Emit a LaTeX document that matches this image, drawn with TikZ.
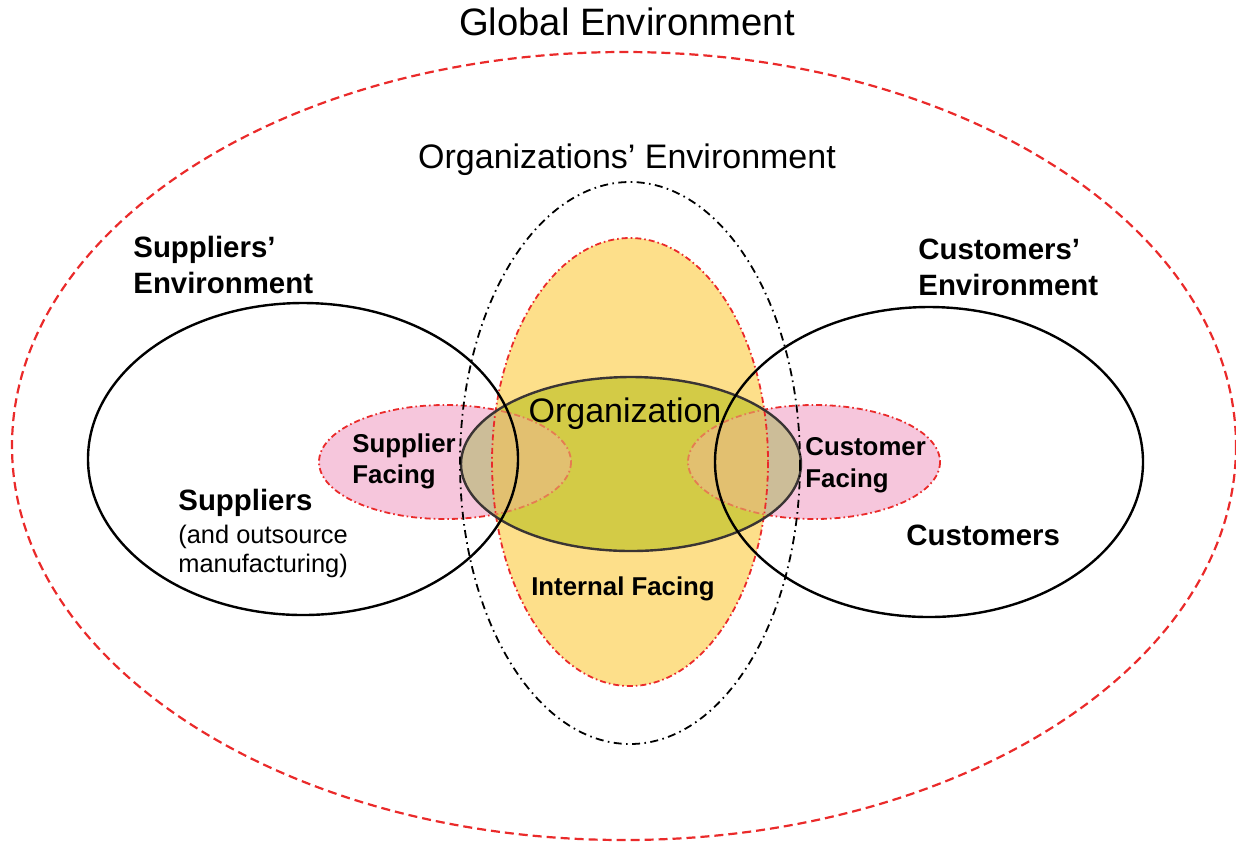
\documentclass[tikz,border=0pt]{standalone}
\usepackage{fontspec}
\setmainfont{Liberation Sans}
\usetikzlibrary{positioning}

\definecolor{envred}{RGB}{234,42,42}
\definecolor{innerfill}{RGB}{253,223,138}
\definecolor{facefill}{RGB}{246,198,220}
\definecolor{orgfill}{RGB}{211,203,70}
\definecolor{mixgrey}{RGB}{204,189,152}
\definecolor{mixorange}{RGB}{226,192,112}
\definecolor{orgline}{RGB}{58,52,52}

\tikzset{
  envline/.style={line width=1.2pt},
  globalline/.style={envred, line width=1.1pt, dash pattern=on 4.5pt off 2.5pt},
  facingline/.style={envred, line width=0.9pt, dash pattern=on 3pt off 1.5pt on 0.8pt off 1.5pt},
  orgenvline/.style={line width=0.9pt, dash pattern=on 4pt off 2.2pt on 0.8pt off 2.2pt},
  biglabel/.style={inner sep=0pt, font=\fontsize{19.1}{23}\selectfont},
  midlabel/.style={inner sep=0pt, font=\fontsize{17}{20}\selectfont},
  envlabel/.style={inner sep=0pt, align=left, font=\fontsize{14.7}{18}\selectfont\bfseries},
  facelabel/.style={inner sep=0pt, align=left, font=\fontsize{12.9}{15.5}\selectfont\bfseries},
  smalllabel/.style={inner sep=0pt, align=left, font=\fontsize{12.7}{14.5}\selectfont},
}

\begin{document}
\begin{tikzpicture}[x=0.5pt, y=-0.5pt]
\useasboundingbox (0,0) rectangle (1236,843);

% Global environment
\draw[globalline] (624,446) ellipse [x radius=612, y radius=394];

% Fills
\fill[innerfill] (630,462) ellipse [x radius=138, y radius=224];
\fill[facefill] (445,462) ellipse [x radius=126, y radius=57];
\fill[facefill] (814,462) ellipse [x radius=126, y radius=57];
\draw[facingline] (445,462) ellipse [x radius=126, y radius=57];
\draw[facingline] (814,462) ellipse [x radius=126, y radius=57];
\fill[orgfill] (631,464) ellipse [x radius=170, y radius=87];

% Overlaps inside the organization
\begin{scope}
  \clip (631,464) ellipse [x radius=170, y radius=87];
  \fill[mixgrey] (445,462) ellipse [x radius=126, y radius=57];
  \fill[mixgrey] (814,462) ellipse [x radius=126, y radius=57];
  \begin{scope}
    \clip (630,462) ellipse [x radius=138, y radius=224];
    \fill[mixorange] (445,462) ellipse [x radius=126, y radius=57];
    \fill[mixorange] (814,462) ellipse [x radius=126, y radius=57];
  \end{scope}
  \draw[facingline, envred!45!mixorange] (445,462) ellipse [x radius=126, y radius=57];
  \draw[facingline, envred!45!mixorange] (814,462) ellipse [x radius=126, y radius=57];
\end{scope}

% Borders
\draw[facingline] (630,462) ellipse [x radius=138, y radius=224];
\draw[orgline, line width=1.2pt] (631,464) ellipse [x radius=170, y radius=87];
\draw[envline] (303,459) ellipse [x radius=215, y radius=156];
\draw[envline] (929,462) ellipse [x radius=214, y radius=155];
\draw[orgenvline] (630,463) ellipse [x radius=170, y radius=281];

% Labels (base = baseline of the last line)
\node[biglabel, anchor=base] (global) at (627,35) {Global Environment};
\node[midlabel, anchor=base] (orgenv) at (627,168) {Organizations’ Environment};
\node[midlabel, anchor=base] (org) at (625,422) {Organization};
\node[envlabel, anchor=base west] (supenv) at (133,293) {Suppliers’\\Environment};
\node[envlabel, anchor=base west] (cusenv) at (918,295) {Customers’\\Environment};
\node[facelabel, anchor=base west] (supface) at (352,483) {Supplier\\Facing};
\node[facelabel, anchor=base west, font=\fontsize{12.9}{16}\selectfont\bfseries] (cusface) at (805,487) {Customer\\Facing};
\node[envlabel, anchor=base west] (sup) at (178,510) {Suppliers};
\node[smalllabel, anchor=base west] (supnote) at (178,572) {(and outsource\\manufacturing)};
\node[envlabel, anchor=base west] (cus) at (906,545) {Customers};
\node[facelabel, anchor=base] (internal) at (623,595) {Internal Facing};
\end{tikzpicture}
\end{document}
